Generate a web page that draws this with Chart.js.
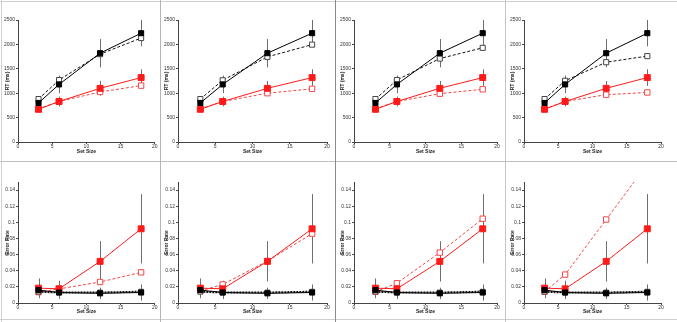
<!DOCTYPE html>
<html>
<head>
<meta charset="utf-8">
<script src="https://cdn.jsdelivr.net/npm/chart.js@4.4.1/dist/chart.umd.min.js"></script>
<style>
  html, body { margin: 0; padding: 0; background: #fff; }
  #fig { position: relative; width: 677px; height: 322px; background: #fff; overflow: hidden; }
  #fig canvas { position: absolute; }
  .sep { position: absolute; background: #bdbdbd; }
</style>
</head>
<body>
<div id="fig"></div>
<script>
// x values (set size)
var setSizes = [3, 6, 12, 18];

// RT (ms), top row. Filled series are the same in every panel.
var rtBlackFilled = [800, 1180, 1820, 2230];
var rtBlackFilledErr = [80, 180, 290, 270];
var rtRedFilled = [670, 830, 1100, 1320];
var rtRedFilledErr = [60, 100, 150, 170];
var rtBlackOpen = [
    [880, 1270, 1800, 2130],
    [880, 1265, 1745, 1995],
    [880, 1270, 1710, 1930],
    [880, 1255, 1635, 1760]
];
var rtRedOpen = [
    [680, 830, 1025, 1155],
    [680, 830, 1000, 1090],
    [680, 830, 990, 1080],
    [680, 830, 970, 1015]
];

// Error rate, bottom row
var erBlackFilled = [0.016, 0.013, 0.012, 0.013];
var erBlackFilledErr = [0.01, 0.008, 0.007, 0.01];
var erRedFilled = [0.0184, 0.0176, 0.0516, 0.092];
var erRedFilledErr = [0.012, 0.01, 0.025, 0.043];
var erBlackOpen = [0.014, 0.013, 0.013, 0.014];
var erRedOpen = [
    [0.0135, 0.0175, 0.026, 0.038],
    [0.015, 0.023, 0.052, 0.086],
    [0.014, 0.0245, 0.0625, 0.1045],
    [0.014, 0.0352, 0.1035, 0.172]
];

var xTicks = [0, 5, 10, 15, 20];
var rtTicks = [0, 500, 1000, 1500, 2000, 2500];
var erTicks = [0, 0.02, 0.04, 0.06, 0.08, 0.1, 0.12, 0.14];

// panel columns: canvas left/right and plot left/right
var columns = [
    { left: 2, right: 160, plotLeft: 18, plotRight: 156 },
    { left: 161, right: 335, plotLeft: 178, plotRight: 327 },
    { left: 337, right: 505, plotLeft: 354, plotRight: 497 },
    { left: 507, right: 677, plotLeft: 524, plotRight: 661 }
];
var rows = [
    { top: 3, bottom: 160, plotTop: 20, plotBottom: 142, max: 2500, ticks: rtTicks, title: 'RT (ms)', titlePad: 5 },
    { top: 163, bottom: 322, plotTop: 182, plotBottom: 303, max: 0.15, ticks: erTicks, title: 'Error Rate', titlePad: 7 }
];

var RED = '#ff1a1a';
var RED_LIGHT = '#f04848';
var TEXT = '#333';
var FONT = '"Liberation Sans", Arial, sans-serif';

function points(values) {
    return setSizes.map(function(x, i) { return { x: x, y: values[i] }; });
}

// vertical error bars, drawn under the markers
var errorBars = {
    id: 'errorBars',
    beforeDatasetsDraw: function(chart) {
        var ctx = chart.ctx, xs = chart.scales.x, ys = chart.scales.y, area = chart.chartArea;
        ctx.save();
        ctx.beginPath();
        ctx.rect(area.left, area.top - 1, area.right - area.left, area.bottom - area.top + 1);
        ctx.clip();
        ctx.beginPath();
        chart.data.datasets.forEach(function(ds) {
            if (!ds.errors) return;
            ds.data.forEach(function(p, i) {
                var x = Math.round(xs.getPixelForValue(p.x)) + 0.5;
                ctx.moveTo(x, ys.getPixelForValue(p.y + ds.errors[i]));
                ctx.lineTo(x, ys.getPixelForValue(p.y - ds.errors[i]));
            });
        });
        ctx.strokeStyle = '#6e6e6e';
        ctx.lineWidth = 1;
        ctx.stroke();
        ctx.restore();
    }
};

function series(values, opts) {
    return Object.assign({
        data: points(values),
        borderWidth: 1,
        pointStyle: 'rect',
        pointBorderWidth: 1,
        tension: 0
    }, opts);
}

function makePanel(col, row, ci, ri) {
    var fig = document.getElementById('fig');
    var canvas = document.createElement('canvas');
    var w = col.right - col.left, h = row.bottom - row.top;
    canvas.width = w;
    canvas.height = h;
    canvas.style.left = col.left + 'px';
    canvas.style.top = row.top + 'px';
    fig.appendChild(canvas);

    var datasets;
    if (ri === 0) {
        datasets = [
            series(rtBlackFilled, { borderColor: '#000', pointBackgroundColor: '#000', pointBorderColor: '#000', pointRadius: 3.6, errors: rtBlackFilledErr }),
            series(rtRedFilled, { borderColor: RED, pointBackgroundColor: RED, pointBorderColor: RED, pointRadius: 4.2, errors: rtRedFilledErr }),
            series(rtBlackOpen[ci], { borderColor: '#111', borderDash: [3, 2], pointBackgroundColor: '#fff', pointBorderColor: '#444', pointRadius: 3.6 }),
            series(rtRedOpen[ci], { borderColor: RED_LIGHT, borderDash: [3, 2], pointBackgroundColor: '#fff', pointBorderColor: RED_LIGHT, pointRadius: 3.8 })
        ];
    } else {
        datasets = [
            series(erBlackFilled, { borderColor: '#000', pointBackgroundColor: '#000', pointBorderColor: '#000', pointRadius: 3.6, errors: erBlackFilledErr }),
            series(erRedFilled, { borderColor: RED, pointBackgroundColor: RED, pointBorderColor: RED, pointRadius: 4.2, errors: erRedFilledErr }),
            series(erBlackOpen, { borderColor: '#111', borderDash: [2, 1], borderWidth: 2, pointBackgroundColor: '#fff', pointBorderColor: '#444', pointRadius: 3.4 }),
            series(erRedOpen[ci], { borderColor: RED_LIGHT, borderDash: [3, 2], pointBackgroundColor: '#fff', pointBorderColor: RED_LIGHT, pointRadius: 3.8 })
        ];
    }

    var yWidth = col.plotLeft - col.left;
    var xHeight = row.bottom - row.plotBottom;
    var allowed = row.ticks;

    new Chart(canvas, {
        type: 'line',
        data: { datasets: datasets },
        plugins: [errorBars],
        options: {
            responsive: false,
            animation: false,
            devicePixelRatio: 1,
            layout: {
                padding: { left: 0, top: row.plotTop - row.top, right: col.right - col.plotRight, bottom: 0 }
            },
            plugins: { legend: { display: false }, tooltip: { enabled: false } },
            scales: {
                x: {
                    type: 'linear',
                    min: 0,
                    max: 20,
                    afterBuildTicks: function(scale) {
                        scale.ticks = xTicks.map(function(v) { return { value: v }; });
                    },
                    afterFit: function(scale) { scale.height = xHeight; },
                    grid: { drawOnChartArea: false, drawTicks: true, tickLength: 2, color: '#444' },
                    border: { color: '#444', width: 1 },
                    ticks: {
                        padding: 0,
                        maxRotation: 0,
                        color: TEXT,
                        font: { size: 5, family: FONT },
                        callback: function(v) { return String(v); }
                    },
                    title: {
                        display: true,
                        text: 'Set Size',
                        color: '#222',
                        padding: { top: 0, bottom: row.titlePad },
                        font: { size: 5, weight: 'bold', family: FONT }
                    }
                },
                y: {
                    type: 'linear',
                    min: 0,
                    max: row.max,
                    afterBuildTicks: function(scale) {
                        scale.ticks = allowed.map(function(v) { return { value: v }; });
                    },
                    afterFit: function(scale) { scale.width = yWidth; },
                    grid: { drawOnChartArea: false, drawTicks: true, tickLength: 2, color: '#444' },
                    border: { color: '#444', width: 1 },
                    ticks: {
                        padding: 1,
                        color: TEXT,
                        font: { size: 5, family: FONT },
                        callback: function(v) { return String(+v.toFixed(2)); }
                    },
                    title: {
                        display: true,
                        text: row.title,
                        color: '#222',
                        padding: { top: 3, bottom: 0 },
                        font: { size: 5, weight: 'bold', family: FONT }
                    }
                }
            }
        }
    });
}

rows.forEach(function(row, ri) {
    columns.forEach(function(col, ci) {
        makePanel(col, row, ci, ri);
    });
});

// panel frame lines
function sep(x, y, w, h, color) {
    var d = document.createElement('div');
    d.className = 'sep';
    d.style.left = x + 'px';
    d.style.top = y + 'px';
    d.style.width = w + 'px';
    d.style.height = h + 'px';
    if (color) d.style.background = color;
    document.getElementById('fig').appendChild(d);
}
sep(0, 1, 677, 1, '#cfcfcf');
sep(0, 161, 677, 1, '#bdbdbd');
sep(0, 319, 677, 1, '#cfcfcf');
sep(1, 0, 1, 322, '#cfcfcf');
sep(160, 0, 1, 322, '#b5b5b5');
sep(335, 0, 1, 322, '#8a8a8a');
sep(505, 0, 1, 322, '#c4c4c4');
</script>
</body>
</html>
